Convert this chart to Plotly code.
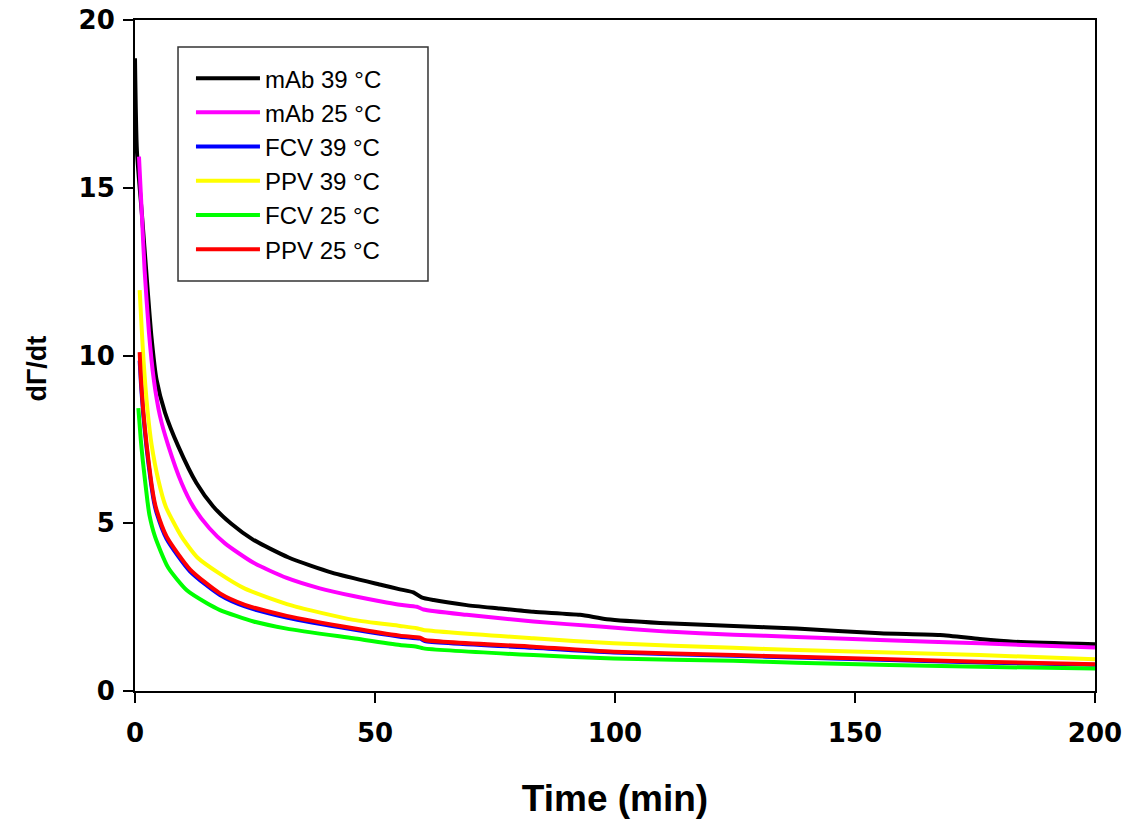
import plotly.graph_objects as go

# ---- data ----
mab39_t = [0, 0.4, 1.5, 2.4, 3.4, 4.5, 6.25, 9.0, 12.8, 16.3, 20, 24.5, 32.0, 41.0, 51.4, 55.2, 58.0, 59.7, 62.2, 69.1, 76, 83, 92.7, 98.3, 109.4, 124.7, 137.8, 155.2, 167.7, 176, 183, 200]
mab39_y = [18.86, 16.1, 14.1, 12.4, 10.6, 9.27, 8.3, 7.3, 6.2, 5.5, 4.99, 4.52, 3.98, 3.53, 3.16, 3.03, 2.94, 2.79, 2.71, 2.56, 2.46, 2.36, 2.27, 2.14, 2.03, 1.94, 1.86, 1.72, 1.67, 1.55, 1.47, 1.39]

mab25_t = [0.83, 1.45, 2.0, 2.9, 3.9, 5.2, 6.9, 9.7, 12.2, 15.5, 18.75, 24.7, 31.6, 38.5, 45.5, 52.4, 55.2, 58.7, 60.1, 69.1, 83, 96.9, 110.8, 124.7, 137.8, 155.2, 176, 200]
mab25_y = [15.93, 14.14, 12.55, 10.7, 9.3, 8.2, 7.33, 6.2, 5.48, 4.85, 4.40, 3.82, 3.37, 3.06, 2.83, 2.64, 2.57, 2.51, 2.43, 2.27, 2.07, 1.92, 1.77, 1.68, 1.61, 1.52, 1.42, 1.30]

fcv39_t = [0.97, 1.25, 1.7, 2.43, 3.33, 4.0, 4.5, 6.6, 11.5, 17.7, 22.9, 31.6, 45.5, 55.2, 59.4, 60.4, 83, 99.7, 124.7, 137.8, 176, 200]
fcv39_y = [9.85, 9.15, 8.28, 7.23, 6.2, 5.6, 5.31, 4.53, 3.56, 2.86, 2.52, 2.19, 1.83, 1.62, 1.56, 1.49, 1.29, 1.15, 1.05, 1.00, 0.85, 0.78]

ppv39_t = [0.97, 1.8, 2.6, 3.47, 4.86, 6.4, 9.7, 13.0, 17.4, 22.9, 32.6, 45.5, 55.2, 58.7, 60.1, 83, 99.7, 124.7, 137.8, 176, 200]
ppv39_y = [11.95, 9.8, 8.38, 7.33, 6.29, 5.5, 4.60, 3.98, 3.52, 3.05, 2.55, 2.12, 1.94, 1.87, 1.82, 1.57, 1.42, 1.29, 1.22, 1.07, 0.95]

fcv25_t = [0.7, 1.2, 1.6, 2.08, 2.6, 3.0, 4.17, 6.9, 10.8, 14.9, 17.7, 24.7, 31.6, 45.5, 55.2, 58.7, 60.1, 83, 99.7, 124.7, 137.8, 176, 200]
fcv25_y = [8.43, 7.5, 6.9, 6.29, 5.65, 5.25, 4.60, 3.68, 3.00, 2.62, 2.41, 2.07, 1.86, 1.57, 1.37, 1.32, 1.27, 1.07, 0.97, 0.90, 0.84, 0.72, 0.67]

ppv25_t = [0.97, 1.25, 1.7, 2.43, 3.33, 4.0, 4.5, 6.6, 11.5, 17.7, 22.9, 31.6, 45.5, 55.2, 59.4, 60.4, 83, 99.7, 124.7, 137.8, 176, 200]
ppv25_y = [10.1, 9.27, 8.38, 7.33, 6.29, 5.69, 5.39, 4.60, 3.62, 2.91, 2.57, 2.24, 1.87, 1.65, 1.59, 1.52, 1.32, 1.17, 1.07, 1.02, 0.87, 0.80]

series = [
    ("mAb 39 \u00b0C", mab39_t, mab39_y, "#000000"),
    ("mAb 25 \u00b0C", mab25_t, mab25_y, "#ff00ff"),
    ("FCV 39 \u00b0C", fcv39_t, fcv39_y, "#0000ff"),
    ("PPV 39 \u00b0C", ppv39_t, ppv39_y, "#ffff00"),
    ("FCV 25 \u00b0C", fcv25_t, fcv25_y, "#00ff00"),
    ("PPV 25 \u00b0C", ppv25_t, ppv25_y, "#ff0000"),
]

x_ticks = [0, 50, 100, 150, 200]
y_ticks = [0, 5, 10, 15, 20]
x_title = "Time (min)"
y_title = "d\u0393/dt"

FONT = "Arial, 'Liberation Sans', sans-serif"
TICKFONT = "'DejaVu Sans', Verdana, sans-serif"

fig = go.Figure()
for name, t, y, c in series:
    fig.add_trace(go.Scatter(x=t, y=y, mode="lines", name=name,
                             line=dict(color=c, width=4, shape="spline", smoothing=0.6)))

axis_common = dict(showline=True, linecolor="black", linewidth=2, mirror=True,
                   ticks="outside", ticklen=10, tickwidth=2, tickcolor="black",
                   showgrid=False, zeroline=False, automargin=False,
                   ticklabeloverflow="allow",
                   tickfont=dict(family=TICKFONT, size=26, color="black", weight="bold"))

fig.update_xaxes(range=[0, 200], tickvals=x_ticks, ticklabelstandoff=8,
                 title=dict(text="<b>" + x_title + "</b>", font=dict(family=FONT, size=37, color="black"), standoff=38),
                 **axis_common)
fig.update_yaxes(range=[0, 20], tickvals=y_ticks, ticklabelstandoff=3, **axis_common)

# y-axis title (placed as a rotated annotation so it can sit slightly below centre, as in the reference)
fig.add_annotation(text="<b>" + y_title + "</b>", textangle=-90, showarrow=False,
                   xref="paper", yref="paper", x=-0.1016, y=0.4814,
                   xanchor="center", yanchor="middle",
                   font=dict(family=FONT, size=27, color="black"))

# legend frame (decorative box around the built-in legend)
fig.add_shape(type="rect", xref="paper", yref="paper",
              x0=0.0448, x1=0.3052, y0=0.611, y1=0.9598,
              line=dict(color="#333333", width=1.5), fillcolor="rgba(0,0,0,0)", layer="above")

fig.update_layout(
    width=1130, height=825,
    margin=dict(l=135, r=35, t=20, b=134, autoexpand=False),
    paper_bgcolor="white", plot_bgcolor="white",
    font=dict(family=FONT, color="black"),
    legend=dict(x=0.0583, y=0.9463, xanchor="left", yanchor="top",
                bgcolor="rgba(0,0,0,0)", borderwidth=0,
                font=dict(family=FONT, size=24, color="black"),
                itemwidth=64, tracegroupgap=0),
    showlegend=True,
)

fig.write_html("out.html", config={"displayModeBar": False},
               post_script="document.body.style.margin='0';document.body.style.overflow='hidden';")
